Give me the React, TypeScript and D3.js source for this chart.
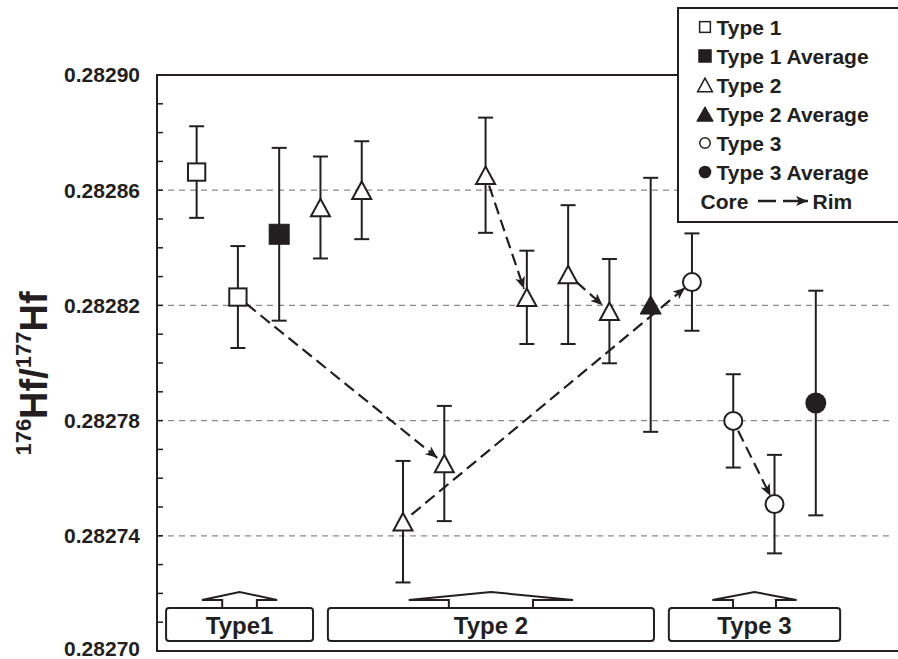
import React from "react";
import * as d3 from "d3";

// ---------- data ----------
const pointKinds = [
  "Type 1", "Type 1", "Type 1 Average",
  "Type 2", "Type 2", "Type 2", "Type 2", "Type 2", "Type 2", "Type 2", "Type 2", "Type 2 Average",
  "Type 3", "Type 3", "Type 3", "Type 3 Average",
];
const hfRatio = [
  0.2828663, 0.2828229, 0.2828447,
  0.2828540, 0.2828600, 0.2827449, 0.2827651, 0.2828652, 0.2828228, 0.2828307, 0.2828180, 0.2828202,
  0.2828281, 0.2827799, 0.2827510, 0.2827861,
];
const hfError = [
  0.0000159, 0.0000177, 0.0000300,
  0.0000177, 0.0000170, 0.0000211, 0.0000200, 0.0000200, 0.0000162, 0.0000241, 0.0000181, 0.0000441,
  0.0000169, 0.0000162, 0.0000171, 0.0000390,
];
// core -> rim arrows (from index, to index)
const arrowFrom = [1, 5, 7, 9, 13];
const arrowTo = [6, 12, 8, 10, 14];

const yTickLabels = ["0.28270", "0.28274", "0.28278", "0.28282", "0.28286", "0.28290"];
const gridValues = [0.28274, 0.28278, 0.28282, 0.28286];

const legendLabels = ["Type 1", "Type 1 Average", "Type 2", "Type 2 Average", "Type 3", "Type 3 Average"];

const groupLabels = ["Type1", "Type 2", "Type 3"];
const groupStart = [-0.74, 3.18, 11.44];
const groupEnd = [2.82, 11.08, 15.59];
const groupTabOuter = [0.91, 1.99, 1.02];
const groupTabInner = [0.42, 1.02, 0.52];

// ---------- layout ----------
const W = 898;
const H = 659;
const FONT = "'Liberation Sans', Arial, Helvetica, sans-serif";
const INK = "#231f20";
const LEFT = 157;
const TOP = 75;
const BOTTOM = 651;

const x = d3.scaleLinear().domain([-0.96, 17.04]).range([LEFT, 900]);
const y = d3.scaleLinear().domain([0.2827, 0.2829]).range([BOTTOM, TOP]);

function Marker({ kind, cx, cy, scale = 1, sw = 2 }: { kind: string; cx: number; cy: number; scale?: number; sw?: number }) {
  const filled = kind.includes("Average");
  if (kind.startsWith("Type 1")) {
    const s = (filled ? 20 : 17.3) * scale;
    return (
      <rect x={cx - s / 2} y={cy - s / 2} width={s} height={s}
        fill={filled ? INK : "#fff"} stroke={INK} strokeWidth={filled ? 1 : sw} />
    );
  }
  if (kind.startsWith("Type 2")) {
    const w = (filled ? 21 : 19) * scale;
    const h = (filled ? 18.5 : 17.5) * scale;
    const p = d3.path();
    p.moveTo(cx, cy - h / 2);
    p.lineTo(cx + w / 2, cy + h / 2);
    p.lineTo(cx - w / 2, cy + h / 2);
    p.closePath();
    return (
      <path d={p.toString()} fill={filled ? INK : "#fff"} stroke={INK}
        strokeWidth={filled ? 1 : sw} strokeLinejoin="miter" />
    );
  }
  const r = (filled ? 10.5 : 9) * scale;
  return (
    <circle cx={cx} cy={cy} r={r} fill={filled ? INK : "#fff"} stroke={INK}
      strokeWidth={filled ? 0 : sw} />
  );
}

export default function App() {
  const minorTicks = y.ticks(20);
  const idx = d3.range(hfRatio.length);

  const arrows = arrowFrom.map((f, k) => {
    const t = arrowTo[k];
    const x1 = x(f), y1 = y(hfRatio[f]);
    const x2 = x(t), y2 = y(hfRatio[t]);
    const len = Math.hypot(x2 - x1, y2 - y1);
    const ux = (x2 - x1) / len, uy = (y2 - y1) / len;
    const s0 = 11, s1 = 9;
    return { x1: x1 + ux * s0, y1: y1 + uy * s0, x2: x2 - ux * s1, y2: y2 - uy * s1 };
  });

  const legendX = 705;
  const legendBase0 = 34.5;
  const legendStep = 29;
  const legendScale: Record<string, number> = {
    "Type 1": 0.62, "Type 1 Average": 0.62, "Type 2": 0.78, "Type 2 Average": 0.78,
    "Type 3": 0.58, "Type 3 Average": 0.6,
  };

  return (
    <svg width={W} height={H} style={{ position: "absolute", left: 0, top: 0, background: "#fff" }}
      fontFamily={FONT}>
      <defs>
        <marker id="ah" markerUnits="userSpaceOnUse" markerWidth="14" markerHeight="12"
          refX="12" refY="5" orient="auto">
          <path d="M0,0 L12,5 L0,10 L3,5 Z" fill={INK} />
        </marker>
      </defs>

      {/* grid */}
      {gridValues.map((g) => (
        <line key={g} x1={LEFT} x2={893} y1={y(g)} y2={y(g)} stroke="#8a8a8a"
          strokeWidth={1.2} strokeDasharray="6,5" />
      ))}

      {/* frame */}
      <path d={`M900,${TOP} L${LEFT},${TOP} L${LEFT},${BOTTOM} L900,${BOTTOM}`} fill="none"
        stroke={INK} strokeWidth={2} />

      {/* ticks */}
      {minorTicks.map((t) => (
        <line key={t} x1={LEFT} x2={LEFT + 6} y1={y(t)} y2={y(t)} stroke={INK} strokeWidth={1.5} />
      ))}
      {yTickLabels.map((lab) => (
        <text key={lab} x={140} y={Math.min(y(+lab), 649)} dy="0.35em" textAnchor="end" fontSize={21}
          fontWeight="bold" fill={INK}>{lab}</text>
      ))}

      {/* y label */}
      <text transform="translate(47,373.5) rotate(-90)" textAnchor="middle" fontWeight="bold" fill={INK}>
        <tspan fontSize={22} dy={-16}>176</tspan>
        <tspan fontSize={38} dy={16}>Hf/</tspan>
        <tspan fontSize={22} dy={-16}>177</tspan>
        <tspan fontSize={38} dy={16}>Hf</tspan>
      </text>

      {/* error bars */}
      {idx.map((i) => {
        const cx = x(i);
        const top = y(hfRatio[i] + hfError[i]);
        const bot = y(hfRatio[i] - hfError[i]);
        return (
          <g key={i} stroke={INK} strokeWidth={2}>
            <line x1={cx} x2={cx} y1={top} y2={bot} />
            <line x1={cx - 7.5} x2={cx + 7.5} y1={top} y2={top} />
            <line x1={cx - 7.5} x2={cx + 7.5} y1={bot} y2={bot} />
          </g>
        );
      })}

      {/* markers */}
      {idx.map((i) => (
        <Marker key={i} kind={pointKinds[i]} cx={x(i)} cy={y(hfRatio[i])} />
      ))}

      {/* arrows */}
      {arrows.map((a, k) => (
        <line key={k} x1={a.x1} y1={a.y1} x2={a.x2} y2={a.y2} stroke={INK} strokeWidth={2.2}
          strokeDasharray="12,6" markerEnd="url(#ah)" />
      ))}

      {/* group brackets */}
      {groupLabels.map((lab, k) => {
        const x0 = x(groupStart[k]);
        const x1 = x(groupEnd[k]);
        const c = (x0 + x1) / 2;
        const o = x(groupTabOuter[k]) - x(0);
        const inn = x(groupTabInner[k]) - x(0);
        const tab = `M${c - inn},608 L${c - inn},600 L${c - o},600 L${c},592 L${c + o},600 L${c + inn},600 L${c + inn},608`;
        return (
          <g key={lab}>
            <rect x={x0} y={608} width={x1 - x0} height={33} rx={3} fill="#fff" stroke={INK} strokeWidth={2} />
            <path d={tab} fill="none" stroke={INK} strokeWidth={2} strokeLinejoin="miter" />
            <text x={c} y={633.5} textAnchor="middle" fontSize={24} fontWeight="bold" fill={INK}>{lab}</text>
          </g>
        );
      })}

      {/* legend */}
      <rect x={678} y={8} width={240} height={214} fill="#fff" stroke={INK} strokeWidth={2} />
      {legendLabels.map((lab, k) => {
        const base = legendBase0 + k * legendStep;
        return (
          <g key={lab}>
            <Marker kind={lab} cx={legendX} cy={base - 7.5} scale={legendScale[lab]} sw={1.5} />
            <text x={716.5} y={base} fontSize={21} fontWeight="bold" fill={INK}>{lab}</text>
          </g>
        );
      })}
      {(() => {
        const base = legendBase0 + 6 * legendStep;
        const my = base - 7.5;
        return (
          <g>
            <text x={700.5} y={base} fontSize={21} fontWeight="bold" fill={INK}>Core</text>
            <line x1={758} x2={776} y1={my} y2={my} stroke={INK} strokeWidth={2.5} />
            <line x1={783} x2={808} y1={my} y2={my} stroke={INK} strokeWidth={2.5} markerEnd="url(#ah)" />
            <text x={812.5} y={base} fontSize={21} fontWeight="bold" fill={INK}>Rim</text>
          </g>
        );
      })()}
    </svg>
  );
}
